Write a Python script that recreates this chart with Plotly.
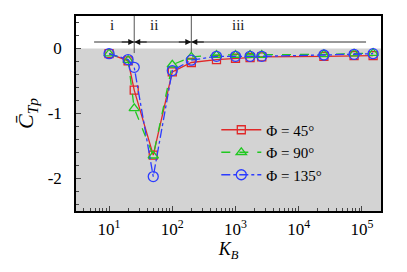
import numpy as np
import plotly.graph_objects as go

# Data
kb = [10, 20, 25, 50, 100, 200, 500, 1000, 1700, 2600, 25000, 75000, 150000]
ctp_45 = [-0.08, -0.19, -0.64, -1.64, -0.36, -0.215, -0.17, -0.15, -0.14, -0.13, -0.12, -0.11, -0.11]
ctp_90 = [-0.08, -0.18, -0.92, -1.65, -0.25, -0.13, -0.10, -0.10, -0.10, -0.10, -0.09, -0.08, -0.07]
ctp_135 = [-0.08, -0.17, -0.29, -1.97, -0.34, -0.18, -0.12, -0.12, -0.12, -0.12, -0.10, -0.09, -0.08]
series_names = ["Φ = 45°", "Φ = 90°", "Φ = 135°"]
region_bounds = [25, 200]
region_labels = ["i", "ii", "iii"]
region_label_x = [11, 52, 1100]
arrow_span = [5.8, 1.16e5]

xticks = [10, 100, 1000, 10000, 100000]
xticktext = ["10<sup>1</sup>", "10<sup>2</sup>", "10<sup>3</sup>", "10<sup>4</sup>", "10<sup>5</sup>"]
yticks = [0, -1, -2]
yticktext = ["0", "-1", "-2"]

FONT = "Liberation Serif, Times New Roman, serif"

fig = go.Figure()

# gray background region below zero
fig.add_trace(go.Scatter(x=[3, 2e5, 2e5, 3], y=[0, 0, -2.5, -2.5], fill="toself",
                         fillcolor="#d3d3d3", line=dict(width=0), mode="lines",
                         showlegend=False, hoverinfo="skip"))

# region boundary lines
for b in region_bounds:
    fig.add_trace(go.Scatter(x=[b, b], y=[0.5, -0.07], mode="lines",
                             line=dict(color="#555555", width=1), showlegend=False, hoverinfo="skip"))
# horizontal arrow line
fig.add_trace(go.Scatter(x=arrow_span, y=[0.1, 0.1], mode="lines",
                         line=dict(color="#333333", width=1), showlegend=False, hoverinfo="skip"))

styles = [
    dict(color="#e02828", dash="solid", symbol="square-open", size=8),
    dict(color="#20c820", dash="dash", symbol="triangle-up-open", size=9),
    dict(color="#2c3cff", dash="dashdot", symbol="circle-open", size=10),
]
for vals, name, st in zip([ctp_45, ctp_90, ctp_135], series_names, styles):
    fig.add_trace(go.Scatter(x=kb, y=vals, name=name, mode="lines+markers",
                             line=dict(color=st["color"], dash=st["dash"], width=1.3),
                             marker=dict(symbol=st["symbol"], size=st["size"], color=st["color"],
                                         line=dict(width=1.3, color=st["color"]))))

annotations = []
for b in region_bounds:
    annotations.append(dict(x=np.log10(b), y=0.1, xref="x", yref="y", ax=-14, ay=0,
                            showarrow=True, arrowhead=2, arrowsize=1.2, arrowwidth=1,
                            arrowcolor="#111", text=""))
    annotations.append(dict(x=np.log10(b), y=0.1, xref="x", yref="y", ax=14, ay=0,
                            showarrow=True, arrowhead=2, arrowsize=1.2, arrowwidth=1,
                            arrowcolor="#111", text=""))
for lx, lt in zip(region_label_x, region_labels):
    annotations.append(dict(x=np.log10(lx), y=0.36, xref="x", yref="y", text=lt,
                            showarrow=False, font=dict(family=FONT, size=15, color="#222")))

minor_vals = [m * 10 ** e for e in range(0, 6) for m in range(2, 10)]

# page body has an 8px default margin, so the figure is sized to fit the window
fig.update_layout(
    width=399, height=264,
    margin=dict(l=68, r=26, t=8, b=61),
    plot_bgcolor="white", paper_bgcolor="white",
    font=dict(family=FONT, size=14, color="black"),
    annotations=annotations,
    legend=dict(x=0.46, y=0.50, xanchor="left", yanchor="top",
                bgcolor="rgba(0,0,0,0)", font=dict(family=FONT, size=15),
                itemwidth=40, tracegroupgap=0),
    xaxis=dict(type="log", range=[np.log10(3), np.log10(2e5)], automargin=False,
               tickvals=xticks, ticktext=xticktext, ticks="inside", ticklen=5,
               showgrid=False, zeroline=False, showline=True, linecolor="black",
               linewidth=1.5, mirror=True, ticklabelstandoff=2,
               minor=dict(tickvals=minor_vals, ticks="inside", ticklen=3, showgrid=False),
               title=dict(text="<i>K<sub>B</sub></i>", font=dict(family=FONT, size=18), standoff=2),
               tickfont=dict(family=FONT, size=17)),
    yaxis=dict(range=[-2.5, 0.5], tickvals=yticks, ticktext=yticktext, automargin=False,
               ticks="inside", ticklen=5, showgrid=False, zeroline=False,
               showline=True, linecolor="black", linewidth=1.5, mirror=True,
               ticklabelstandoff=9,
               minor=dict(dtick=0.2, ticks="inside", ticklen=3, showgrid=False),
               title=dict(text="<i>C̄</i><sub><i>Tp</i></sub>", font=dict(family=FONT, size=22), standoff=8),
               tickfont=dict(family=FONT, size=17)),
)

fig.write_html("out.html")
